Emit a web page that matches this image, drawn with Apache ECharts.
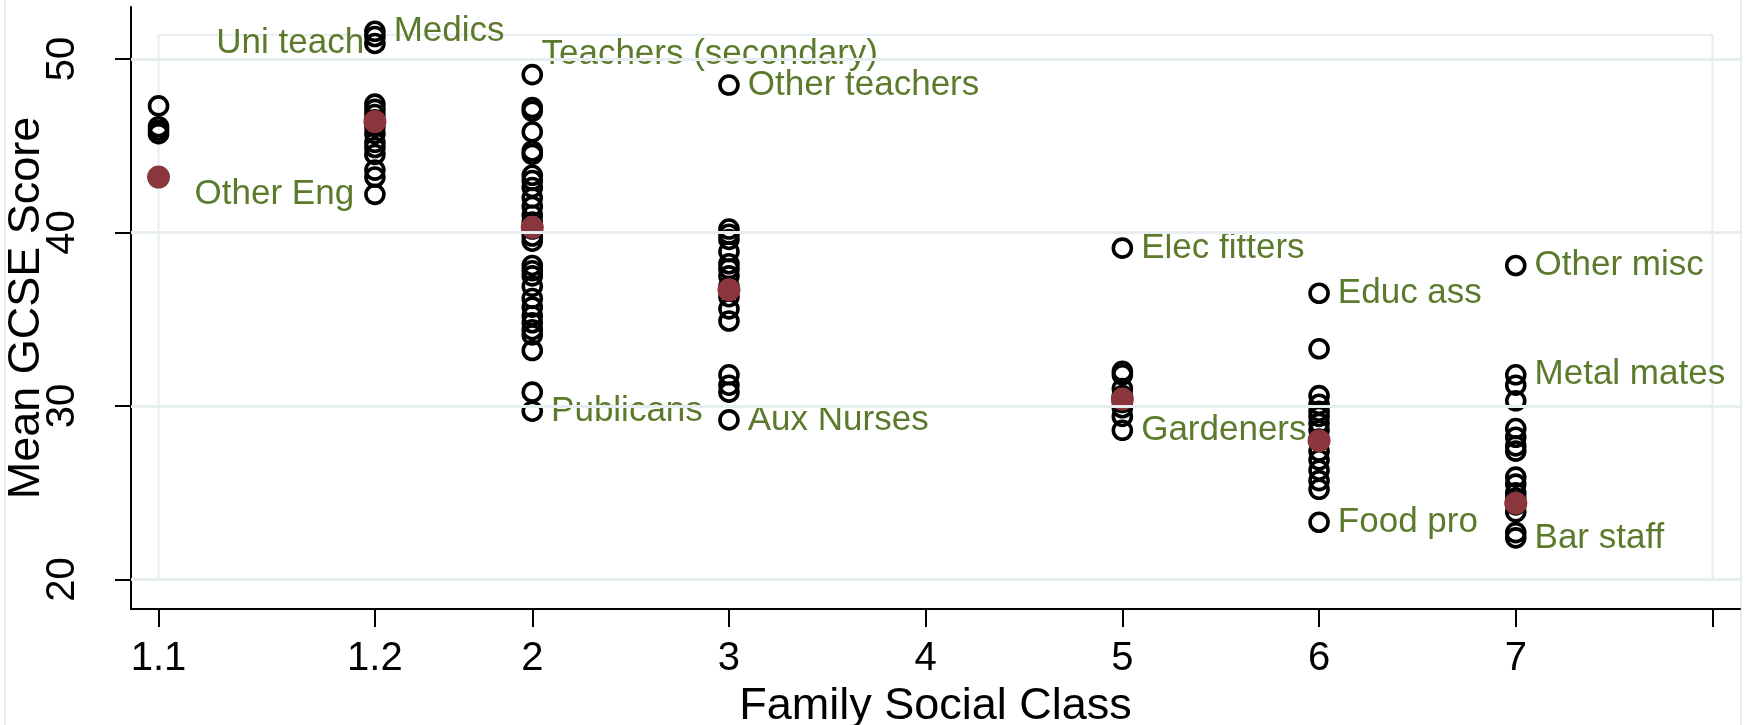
<!DOCTYPE html>
<html>
<head>
<meta charset="utf-8">
<script src="https://cdn.jsdelivr.net/npm/echarts@6/dist/echarts.min.js"></script>
<style>
  html, body { margin: 0; padding: 0; background: #fff; }
  #chart { width: 1745px; height: 725px; }
</style>
</head>
<body>
<div id="chart"></div>
<script>
// x position of each social class on the axis, and its tick label
const classPos = [0.1, 1.2, 2, 3, 5, 6, 7];
const tickPos = [0.1, 1.2, 2, 3, 4, 5, 6, 7, 8];
const tickLabels = ["1.1", "1.2", "2", "3", "4", "5", "6", "7", ""];
const yTicks = [20, 30, 40, 50];

// mean GCSE score of each occupation, grouped by class
const scores11 = [47.3, 46.1, 45.9, 45.7];
const scores12 = [51.6, 51.3, 50.9, 47.4, 47.1, 46.8, 46.5, 46.1, 45.7, 45.2, 44.9, 44.5, 43.6, 43.2, 42.2];
const scores2 = [49.1, 47.2, 47.0, 45.8, 44.7, 44.5, 43.3, 43.0, 42.6, 42.0, 41.5, 41.0, 40.6, 40.2,
  39.8, 39.5, 38.1, 37.8, 37.5, 36.9, 36.2, 35.7, 35.2, 34.8, 34.4, 34.1, 33.2, 30.8, 29.7];
const scores3 = [48.5, 40.2, 39.9, 39.6, 38.9, 38.2, 37.9, 37.5, 36.9, 36.3, 35.6, 34.9, 31.8, 31.2, 30.8, 29.2];
const scores5 = [39.1, 32.0, 31.8, 31.0, 30.6, 30.2, 29.9, 29.4, 28.6];
const scores6 = [36.5, 33.3, 30.6, 30.1, 29.7, 29.4, 29.0, 28.6, 28.1, 27.4, 26.9, 26.3, 25.7, 25.2, 23.3];
const scores7 = [38.1, 31.8, 31.2, 30.3, 28.7, 28.2, 27.7, 27.4, 25.9, 25.5, 25.0, 24.7, 24.3, 23.9, 22.7, 22.4];
const classScores = [scores11, scores12, scores2, scores3, scores5, scores6, scores7];

// class means (red dots)
const classMeans = [43.2, 46.4, 40.3, 36.7, 30.4, 28.0, 24.4];

// labelled occupations: [class index, score, text, side]
const occLabels = [
  [1, 51.6, "Medics", "right"],
  [1, 50.9, "Uni teach", "left"],
  [1, 42.2, "Other Eng", "left"],
  [2, 49.1, "Teachers (secondary)", "upright"],
  [2, 29.7, "Publicans", "right"],
  [3, 48.5, "Other teachers", "right"],
  [3, 29.2, "Aux Nurses", "right"],
  [4, 39.1, "Elec fitters", "right"],
  [4, 28.6, "Gardeners", "right"],
  [5, 36.5, "Educ ass", "right"],
  [5, 23.3, "Food pro", "right"],
  [6, 38.1, "Other misc", "right"],
  [6, 31.8, "Metal mates", "right"],
  [6, 22.4, "Bar staff", "right"]
];

const FONT = "'Liberation Sans', Arial, sans-serif";
const GREEN = "#5b7a2c";
const GRIDCOL = "#e6eef1";

const labelFor = (ci, v) => occLabels.find((l) => l[0] === ci && l[1] === v);

const pointData = [];
classScores.forEach((arr, ci) => {
  arr.forEach((v) => {
    const item = { value: [classPos[ci], v] };
    const lab = labelFor(ci, v);
    if (lab) {
      const side = lab[3];
      if (side === "upright") {
        // sits above and to the right of its point
        item.label = { show: true, formatter: lab[2], position: [20, -27], align: "left", verticalAlign: "top" };
      } else {
        item.label = {
          show: true,
          formatter: lab[2],
          position: side,
          distance: side === "left" ? (lab[2] === "Uni teach" ? 0 : 10) : 8,
          offset: lab[2] === "Publicans" ? [0, 5] : [0, 0],
        };
      }
    }
    pointData.push(item);
  });
});

const meanData = classMeans.map((m, i) => [classPos[i], m]);

const chart = echarts.init(document.getElementById("chart"), null, { renderer: "canvas" });

chart.setOption({
  backgroundColor: "#fff",
  animation: false,
  grid: { left: 131, right: 5, top: 7, bottom: 116, containLabel: false, outerBoundsMode: "none" },
  xAxis: {
    type: "value",
    min: -0.04,
    max: 8.14,
    name: "Family Social Class",
    nameLocation: "middle",
    nameGap: 73,
    nameTextStyle: { fontFamily: FONT, fontSize: 45, color: "#000" },
    axisLine: { show: true, onZero: false, lineStyle: { color: "#000", width: 2 } },
    axisTick: { show: true, length: 18, lineStyle: { color: "#000", width: 2 }, customValues: tickPos },
    axisLabel: {
      customValues: tickPos,
      margin: 30,
      fontFamily: FONT,
      fontSize: 40,
      color: "#000",
      formatter: (v) => {
        const i = tickPos.findIndex((t) => Math.abs(t - v) < 1e-6);
        return i >= 0 ? tickLabels[i] : "";
      },
    },
    splitLine: { show: false },
  },
  yAxis: {
    type: "value",
    min: 18.3,
    max: 53,
    name: "Mean GCSE Score",
    nameLocation: "middle",
    nameGap: 82,
    nameMoveOverlap: false,
    nameTextStyle: { fontFamily: FONT, fontSize: 45, color: "#000" },
    axisLine: { show: true, onZero: false, lineStyle: { color: "#000", width: 2 } },
    axisTick: { show: true, length: 16, lineStyle: { color: "#000", width: 2 }, customValues: yTicks },
    axisLabel: {
      customValues: yTicks,
      rotate: 90,
      margin: 48,
      fontFamily: FONT,
      fontSize: 40,
      color: "#000",
    },
    splitLine: { show: false },
  },
  graphic: [
    { type: "line", shape: { x1: 5, y1: 0, x2: 5, y2: 725 }, style: { stroke: GRIDCOL, lineWidth: 2 } },
    { type: "line", shape: { x1: 1741, y1: 0, x2: 1741, y2: 725 }, style: { stroke: GRIDCOL, lineWidth: 2 } },
  ],
  series: [
    {
      // grid lines and the light plot-region box
      type: "scatter",
      data: [],
      silent: true,
      z: 1,
      markLine: {
        silent: true,
        symbol: "none",
        label: { show: false },
        lineStyle: { color: GRIDCOL, width: 3, type: "solid" },
        data: yTicks.map((t) => ({ yAxis: t })),
      },
      markArea: {
        silent: true,
        itemStyle: { color: "rgba(0,0,0,0)", borderColor: GRIDCOL, borderWidth: 2 },
        data: [[{ coord: [classPos[0], 20] }, { coord: [8, 51.4] }]],
      },
    },
    {
      name: "Occupations",
      type: "scatter",
      symbol: "circle",
      symbolSize: 18,
      z: 3,
      itemStyle: { color: "rgba(255,255,255,0)", borderColor: "#000", borderWidth: 3.6, opacity: 1 },
      label: {
        show: false,
        fontFamily: FONT,
        fontSize: 35,
        color: GREEN,
        opacity: 1,
      },
      labelLayout: { hideOverlap: false },
      data: pointData,
    },
    {
      name: "Class mean",
      type: "scatter",
      symbol: "circle",
      symbolSize: 23,
      z: 4,
      itemStyle: { color: "#8b363d", opacity: 1 },
      data: meanData,
    },
  ],
});
</script>
</body>
</html>
